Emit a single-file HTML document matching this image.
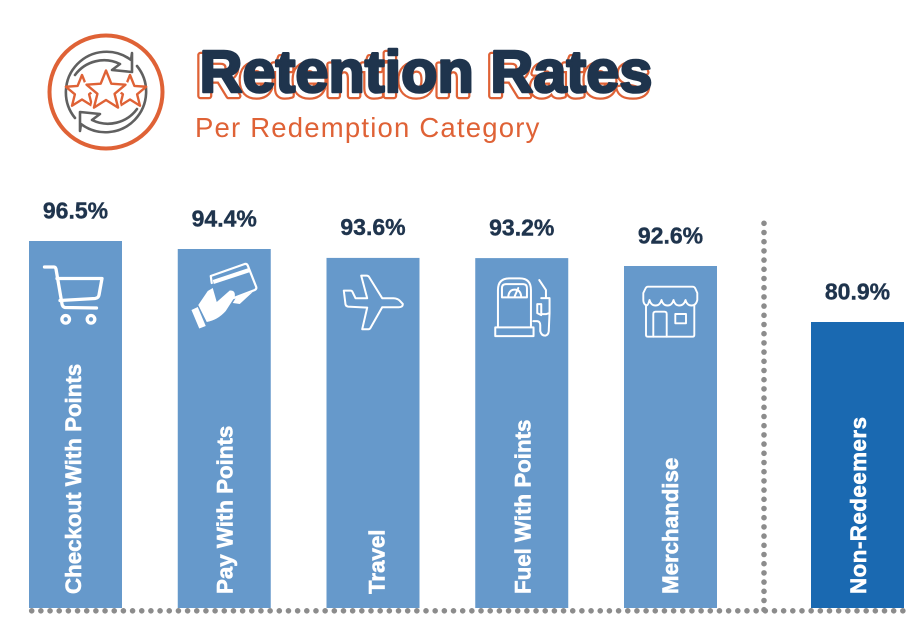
<!DOCTYPE html>
<html lang="en">
<head>
<meta charset="utf-8">
<title>Retention Rates</title>
<style>
html,body{margin:0;padding:0;background:#fff;}
body{width:916px;height:621px;overflow:hidden;}
svg{display:block;font-family:"Liberation Sans",sans-serif;}
</style>
</head>
<body>
<svg id="chart" width="916" height="621" viewBox="0 0 916 621" xmlns="http://www.w3.org/2000/svg">
  <rect width="916" height="621" fill="#ffffff"/>

  <g>
    <circle cx="106" cy="92" r="56.5" fill="none" stroke="#DF6236" stroke-width="4"/>
    <g fill="none" stroke="#606060" stroke-width="2.6" stroke-linejoin="round" stroke-linecap="round">
      <path d="M75 118 A40.6 40.6 0 0 1 131 60 L132 53 L132 72 L112 70 L120 64 A36 36 0 0 0 75 75"/>
      <path transform="rotate(180 106 92)" d="M75 118 A40.6 40.6 0 0 1 131 60 L132 53 L132 72 L112 70 L120 64 A36 36 0 0 0 75 75"/>
    </g>
    <g fill="none" stroke="#DF6236" stroke-width="2.4" stroke-linejoin="round">
      <polygon transform="translate(82 92) scale(1.7)" vector-effect="non-scaling-stroke" points="0,-10 2.59,-3.56 9.51,-3.09 4.18,1.36 5.88,8.09 0,4.4 -5.88,8.09 -4.18,1.36 -9.51,-3.09 -2.59,-3.56"/>
      <polygon transform="translate(130 92) scale(1.7)" vector-effect="non-scaling-stroke" points="0,-10 2.59,-3.56 9.51,-3.09 4.18,1.36 5.88,8.09 0,4.4 -5.88,8.09 -4.18,1.36 -9.51,-3.09 -2.59,-3.56"/>
      <polygon transform="translate(106 91) scale(2.05)" vector-effect="non-scaling-stroke" stroke="#ffffff" stroke-width="6" fill="#ffffff" points="0,-10 2.59,-3.56 9.51,-3.09 4.18,1.36 5.88,8.09 0,4.4 -5.88,8.09 -4.18,1.36 -9.51,-3.09 -2.59,-3.56"/>
      <polygon transform="translate(106 91) scale(2.05)" vector-effect="non-scaling-stroke" points="0,-10 2.59,-3.56 9.51,-3.09 4.18,1.36 5.88,8.09 0,4.4 -5.88,8.09 -4.18,1.36 -9.51,-3.09 -2.59,-3.56"/>
    </g>
  </g>

  <g font-size="59.5" font-weight="700">
    <text x="196.500" y="96" fill="#DF6236" stroke="#DF6236" stroke-width="6.500" stroke-linejoin="round">Retention Rates</text>
    <text x="196.500" y="96" fill="#ffffff" stroke="#ffffff" stroke-width="2" stroke-linejoin="round">Retention Rates</text>
    <text x="199.500" y="92" fill="#1F344D" stroke="#1F344D" stroke-width="2.600" stroke-linejoin="round">Retention Rates</text>
  </g>
  <text x="195" y="137" font-size="27.5" letter-spacing="1.2" fill="#DF6236">Per Redemption Category</text>

  <g id="bars"></g>

  <line x1="764" y1="223.3" x2="764" y2="611" stroke="#8C8C8C" stroke-width="5.6" stroke-linecap="round" stroke-dasharray="0 9.2"/>
  <line x1="31.7" y1="610.8" x2="903" y2="610.8" stroke="#8C8C8C" stroke-width="5.6" stroke-linecap="round" stroke-dasharray="0 9.17"/>

  <g id="labels"></g>

  <!-- Icons: drawn in authoring coordinates, re-anchored to their bar's top-left by the script -->
  <g id="icon-0"><g transform="translate(-29 -241)" fill="none" stroke="#fff" stroke-width="3.3" stroke-linecap="round" stroke-linejoin="round">
    <path d="M44.500 267 H54 Q55.500 267 56 269 L62 304 Q62.500 307 65 307.500 L96.500 308"/>
    <path d="M57 278.500 H102 L99 295 Q98.500 298 95 298.500 L60 300.500"/>
    <circle cx="65.700" cy="319.300" r="3.800"/><circle cx="91" cy="319.300" r="3.800"/>
  </g></g>

  <g id="icon-1"><g transform="translate(-178 -249)">
    <g fill="none" stroke="#fff" stroke-width="2.2" stroke-linejoin="round" stroke-linecap="round">
      <path d="M212 283 L211 276 L245 264 Q247 263.500 248 265.500 L256.500 287 Q257 289 255 290 L234 298"/>
    </g>
    <path d="M213 280 L249 268 L250.500 272 L214 284 Z" fill="#fff"/>
    <path d="M198.500 305 L208 291 L213 288 L217 302 L230 290.500 Q236 290 235 297 L226 311 Q218 320 207 322 Z" fill="#fff"/>
    <path d="M233 303 L240 304 L253 292 L236 298 Z" fill="#fff"/>
    <path d="M191.700 310 L198 307 L206 326 L199.500 328.500 Z" fill="#fff"/>
  </g></g>

  <g id="icon-2"><g transform="translate(-326 -258)" fill="none" stroke="#fff" stroke-width="2" stroke-linejoin="round">
    <path d="M343.300 290.700 H350 Q351.500 290.700 352 292 L355 298.300 H366.700 L360.700 275.700 H366 Q367.800 275.700 368.500 277 L381.700 298.300 H393 Q397 298.500 399 300.500 L402.300 304 Q402.500 307.300 398.300 307.300 H381.700 L370 328 Q369.300 329.300 368 329.300 H361.700 L366.700 307.700 L347.500 306.700 Q345.500 306.500 345 304.500 Z"/>
  </g></g>

  <g id="icon-3"><g transform="translate(-475 -258)" fill="none" stroke="#fff" stroke-width="2" stroke-linejoin="round" stroke-linecap="round">
    <path d="M497.700 327 V290 Q497.700 278.300 509 278.300 H519.500 Q530.700 278.300 530.700 290 V327"/>
    <rect x="495" y="327.300" width="38.300" height="8.700"/>
    <path d="M501.700 297.300 V288 Q501.700 284 505.500 284 H523 Q526.700 284 526.700 288 V297.300 Z"/>
    <path d="M508 297 Q508.500 289.500 514.500 289.500 Q520.500 289.500 521 297"/>
    <path d="M514.500 296 L518 288"/>
    <path d="M539 280 L545.700 290 V298"/>
    <path d="M541 298 H549.300 V313 L546 314 H541 V304 L537 304 V313 L541 315"/>
    <path d="M533 321 H537 Q540 321.500 540 325 V331 Q541 335.500 545 335.500 Q548 335 548.500 331 L549.300 313"/>
  </g></g>

  <g id="icon-4"><g transform="translate(-624 -266)" fill="none" stroke="#fff" stroke-width="1.900" stroke-linejoin="round" stroke-linecap="round">
    <path d="M648 286.700 H692.500 Q694.500 286.700 695.300 288.500 L697.300 293 V300 Q696 305.500 691.500 305.500 Q687 305.500 685.500 300 Q684 305.500 679 305.500 Q675 305.500 673.500 300 Q672 305.500 667.500 305.500 Q663 305.500 661.500 300 Q660 305.500 655.500 305.500 Q651 305.500 649.500 300 Q648 305.500 646.500 305.500 Q643.300 304 643.300 300 V293 L645.500 288.500 Q646.300 286.700 648 286.700 Z"/>
    <path d="M646 305 V335 Q646 336.700 648 336.700 H692.500 Q694.300 336.700 694.300 335 V305"/>
    <path d="M653.300 336.700 V314 Q653.300 311.700 655.500 311.700 H664.500 Q666.700 311.700 666.700 314 V336.700"/>
    <rect x="675.300" y="314" width="10.700" height="9.300"/>
  </g></g>

<script>
// Chart data
var categories = ["Checkout With Points", "Pay With Points", "Travel", "Fuel With Points", "Merchandise", "Non-Redeemers"];
var retentionValues = [96.5, 94.4, 93.6, 93.2, 92.6, 80.9];
var seriesGroups = ["redeemer", "redeemer", "redeemer", "redeemer", "redeemer", "non-redeemer"];

// Axis functions. The source graphic's vertical scale is hand-drawn and non-uniform,
// so the y axis is a monotone piecewise-linear mapping.
var BASE_Y = 608;
var Y_DOMAIN = [80.9, 92.6, 93.2, 93.6, 94.4, 96.5];
var Y_RANGE = [322, 266, 258.1, 257.9, 249, 241];
function yScale(v) {
  var n = Y_DOMAIN.length, i = 0;
  if (v >= Y_DOMAIN[n - 1]) { i = n - 2; }
  else { while (i < n - 2 && v >= Y_DOMAIN[i + 1]) { i++; } }
  var t = (v - Y_DOMAIN[i]) / (Y_DOMAIN[i + 1] - Y_DOMAIN[i]);
  return Y_RANGE[i] + t * (Y_RANGE[i + 1] - Y_RANGE[i]);
}
var BAND_START = 29, BAND_STEP = 148.75, BAND_WIDTH = 93, GROUP_GAP = 38.25;
function xScale(i) {
  return BAND_START + i * BAND_STEP + (seriesGroups[i] === "non-redeemer" ? GROUP_GAP : 0);
}

// Cosmetic adjustments of the rotated captions, as hand-placed in the source
var captionOffset = [5.5, 8.3, 11.5, 8.5, 7.5, 8.5];
var captionTracking = [0, 0, 0, 0, 0, 0.5];

var NS = "http://www.w3.org/2000/svg";
var barsLayer = document.getElementById("bars");
var labelsLayer = document.getElementById("labels");

categories.forEach(function (name, i) {
  var v = retentionValues[i];
  var x = xScale(i), top = yScale(v);
  var key = name.toLowerCase().replace(/\s+/g, "-");

  var bar = document.createElementNS(NS, "rect");
  
  
  bar.setAttribute("x", x);
  bar.setAttribute("y", top);
  bar.setAttribute("width", BAND_WIDTH);
  bar.setAttribute("height", BASE_Y - top);
  bar.setAttribute("fill", seriesGroups[i] === "non-redeemer" ? "#1A69B1" : "#6699CB");
  barsLayer.appendChild(bar);

  var value = document.createElementNS(NS, "text");
  
  
  value.setAttribute("x", x + BAND_WIDTH / 2);
  value.setAttribute("y", top - 22.7);
  value.setAttribute("text-anchor", "middle");
  value.setAttribute("font-size", "23");
  value.setAttribute("font-weight", "700");
  value.setAttribute("stroke", "#1F344D");
  value.setAttribute("stroke-width", "0.4");
  value.setAttribute("fill", "#1F344D");
  value.textContent = v.toFixed(1) + "%";
  labelsLayer.appendChild(value);

  var caption = document.createElementNS(NS, "text");
  
  
  caption.setAttribute("transform", "translate(" + (x + BAND_WIDTH / 2 + captionOffset[i]) + " 594) rotate(-90)");
  caption.setAttribute("font-size", "22.3");
  caption.setAttribute("font-weight", "700");
  caption.setAttribute("letter-spacing", captionTracking[i]);
  caption.setAttribute("stroke", "#ffffff");
  caption.setAttribute("stroke-width", "0.6");
  caption.setAttribute("fill", "#ffffff");
  caption.textContent = name;
  labelsLayer.appendChild(caption);

  var icon = document.getElementById("icon-" + i);
  if (icon) { icon.setAttribute("transform", "translate(" + x + " " + top + ")"); }
});
</script>
</svg>
</body>
</html>
